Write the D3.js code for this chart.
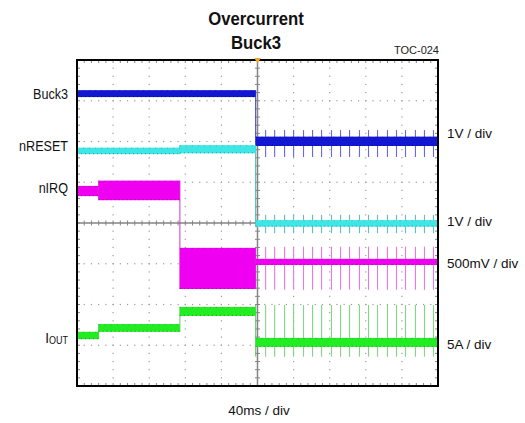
<!DOCTYPE html>
<html><head><meta charset="utf-8">
<script src="https://cdn.jsdelivr.net/npm/d3@7"></script>
<style>body{margin:0;background:#fff;} svg{display:block;font-family:"Liberation Sans",Arial,sans-serif;}</style>
</head><body><svg id="c" width="525" height="423"></svg>
<script>
// ---- data (time in ms relative to trigger, level in screen divisions) ----
const timeRange = [-200, 200];
const divRange = [-4, 4];
const buck3Times = [-200, -2, 200];
const buck3Low = [3.09, 1.89];
const buck3High = [3.26, 2.12];
const nresetTimes = [-200, -86, -2, 200];
const nresetLow = [1.69, 1.71, -0.09];
const nresetHigh = [1.85, 1.91, 0.07];
const nirqTimes = [-200, -176, -86, -2, 200];
const nirqLow = [0.66, 0.56, -1.62, -1.03];
const nirqHigh = [0.91, 1.04, -0.61, -0.88];
const ioutTimes = [-200, -176, -86, -2, 200];
const ioutLow = [-2.85, -2.67, -2.28, -3.04];
const ioutHigh = [-2.67, -2.48, -2.06, -2.82];
const spikeTimes = [9, 19, 30, 40, 51, 61, 71, 82, 92, 102, 113, 123, 133, 144, 154, 164, 175, 185, 195];
const spikeHigh = [2.28, 0.20, -0.58, -2.01];
const spikeLow = [1.62, -0.25, -1.64, -3.28];
const leftLabels = ["Buck3", "nRESET", "nIRQ", "I"];
const leftLabelLevels = [3.16, 1.90, 0.86, -2.83];
const rightLabels = ["1V / div", "1V / div", "500mV / div", "5A / div"];
const rightLabelLevels = [2.21, 0.06, -0.98, -2.97];
const titleLines = ["Overcurrent", "Buck3"];
const timeLabel = "40ms / div";
const docLabel = "TOC-024";

// ---- rendering ----
const svg = d3.select("#c");
const x = d3.scaleLinear().domain(timeRange).range([77, 438]);
const y = d3.scaleLinear().domain(divRange).range([386, 60]);

const channels = [
  {times: buck3Times, lo: buck3Low, hi: buck3High, fill: "#1218d2", dark: "#05057a", conn: "#3a3acc", spike: "#6868e2"},
  {times: nresetTimes, lo: nresetLow, hi: nresetHigh, fill: "#3ee6e6", dark: "#1a7c7c", conn: "#3fb4b4", spike: "#5ec0c0"},
  {times: nirqTimes, lo: nirqLow, hi: nirqHigh, fill: "#f000f0", dark: "#7a0a7a", conn: "#c43cc4", spike: "#e878e8"},
  {times: ioutTimes, lo: ioutLow, hi: ioutHigh, fill: "#22ec22", dark: "#157a15", conn: "#5cc85c", spike: "#80d880"}
];

// grid dots
const gDots = svg.append("g").attr("fill", "#9a9a9a");
const minorX = d3.range(timeRange[0], timeRange[1] + 0.01, 8);
const minorY = d3.range(divRange[0], divRange[1] + 0.001, 0.2);
for (let d = -3; d <= 3; d++) {
  if (d === 0) continue;
  minorX.forEach(t => gDots.append("rect").attr("x", x(t) - 0.6).attr("y", y(d) - 0.6).attr("width", 1.2).attr("height", 1.2));
}
for (let t = -160; t <= 160; t += 40) {
  if (t === 0) continue;
  minorY.forEach(v => gDots.append("rect").attr("x", x(t) - 0.6).attr("y", y(v) - 0.6).attr("width", 1.2).attr("height", 1.2));
}

// centre cross with ticks
const gAx = svg.append("g").attr("stroke", "#858585");
gAx.append("line").attr("x1", x(timeRange[0])).attr("x2", x(timeRange[1])).attr("y1", y(0)).attr("y2", y(0)).attr("stroke-width", 1.5);
gAx.append("line").attr("x1", x(0)).attr("x2", x(0)).attr("y1", y(divRange[0])).attr("y2", y(divRange[1])).attr("stroke-width", 1.5);
minorX.forEach(t => {
  gAx.append("line").attr("x1", x(t)).attr("x2", x(t)).attr("y1", y(0) - 2.5).attr("y2", y(0) + 2.5).attr("stroke-width", 1);
  gAx.append("line").attr("x1", x(t)).attr("x2", x(t)).attr("y1", y(divRange[1])).attr("y2", y(divRange[1]) + 3).attr("stroke-width", 1);
  gAx.append("line").attr("x1", x(t)).attr("x2", x(t)).attr("y1", y(divRange[0])).attr("y2", y(divRange[0]) - 3).attr("stroke-width", 1);
});
minorY.forEach(v => {
  gAx.append("line").attr("x1", x(0) - 2.5).attr("x2", x(0) + 2.5).attr("y1", y(v)).attr("y2", y(v)).attr("stroke-width", 1);
  gAx.append("line").attr("x1", x(timeRange[0])).attr("x2", x(timeRange[0]) + 3).attr("y1", y(v)).attr("y2", y(v)).attr("stroke-width", 1);
  gAx.append("line").attr("x1", x(timeRange[1])).attr("x2", x(timeRange[1]) - 3).attr("y1", y(v)).attr("y2", y(v)).attr("stroke-width", 1);
});

// traces
const gTr = svg.append("g");
channels.forEach((c, ci) => {
  for (let i = 1; i < c.lo.length; i++) {
    const t = c.times[i];
    const vals = [c.lo[i - 1], c.hi[i - 1], c.lo[i], c.hi[i]];
    let top = d3.max(vals), bot = d3.min(vals);
    if (ci === 3 && i === c.lo.length - 1) { top = spikeHigh[ci]; bot = spikeLow[ci]; }
    gTr.append("line").attr("x1", x(t)).attr("x2", x(t)).attr("y1", y(top)).attr("y2", y(bot))
      .attr("stroke", c.conn).attr("stroke-width", 1);
  }
  spikeTimes.forEach(t => {
    gTr.append("line").attr("x1", x(t)).attr("x2", x(t)).attr("y1", y(spikeHigh[ci])).attr("y2", y(spikeLow[ci]))
      .attr("stroke", c.spike).attr("stroke-width", 1.1);
  });
  c.lo.forEach((lo, i) => {
    const x0 = x(c.times[i]), x1 = x(c.times[i + 1]);
    const yt = y(c.hi[i]), yb = y(lo);
    gTr.append("rect").attr("x", x0).attr("y", yt).attr("width", x1 - x0).attr("height", Math.max(1, yb - yt))
      .attr("fill", c.fill);
    gTr.append("line").attr("x1", x0).attr("x2", x1).attr("y1", yb - 0.5).attr("y2", yb - 0.5)
      .attr("stroke", c.dark).attr("stroke-width", 1).attr("stroke-dasharray", "1,3").attr("opacity", 0.7);
    gTr.append("line").attr("x1", x0).attr("x2", x1).attr("y1", yt + 0.5).attr("y2", yt + 0.5)
      .attr("stroke", c.dark).attr("stroke-width", 1).attr("stroke-dasharray", "1,5").attr("opacity", 0.4);
  });
});

// frame
svg.append("rect").attr("x", x(timeRange[0])).attr("y", y(divRange[1]))
  .attr("width", x(timeRange[1]) - x(timeRange[0])).attr("height", y(divRange[0]) - y(divRange[1]))
  .attr("fill", "none").attr("stroke", "#000").attr("stroke-width", 2);

// trigger marker
svg.append("path").attr("d", `M${x(0) - 3.5},${y(divRange[1]) - 2}L${x(0) + 3.5},${y(divRange[1]) - 2}L${x(0)},${y(divRange[1]) + 3}Z`)
  .attr("fill", "#f5a623");

// titles
titleLines.forEach((s, i) => {
  svg.append("text").attr("transform", `translate(256,${25 + i * 24}) scale(0.88,1)`)
    .attr("text-anchor", "middle").attr("font-size", 19).attr("font-weight", "bold").attr("fill", "#111").text(s);
});
svg.append("text").attr("x", 439).attr("y", 54).attr("text-anchor", "end").attr("font-size", 11).attr("fill", "#222").text(docLabel);

// left labels (slightly condensed like the source)
leftLabels.forEach((s, i) => {
  const t = svg.append("text").attr("transform", `translate(68,${y(leftLabelLevels[i]) + 5}) scale(0.9,1)`)
    .attr("text-anchor", "end").attr("font-size", 14).attr("fill", "#111");
  t.append("tspan").text(s);
  if (s === "I") {
    t.attr("font-size", 15);
    t.append("tspan").attr("font-size", 10).attr("dy", 0.5).text("OUT");
  }
});
// right labels
rightLabels.forEach((s, i) => {
  svg.append("text").attr("x", 447).attr("y", y(rightLabelLevels[i]) + 5).attr("font-size", 13.5).attr("fill", "#111").text(s);
});
svg.append("text").attr("x", 259).attr("y", 415).attr("text-anchor", "middle").attr("font-size", 13.5).attr("fill", "#111").text(timeLabel);
</script></body></html>
